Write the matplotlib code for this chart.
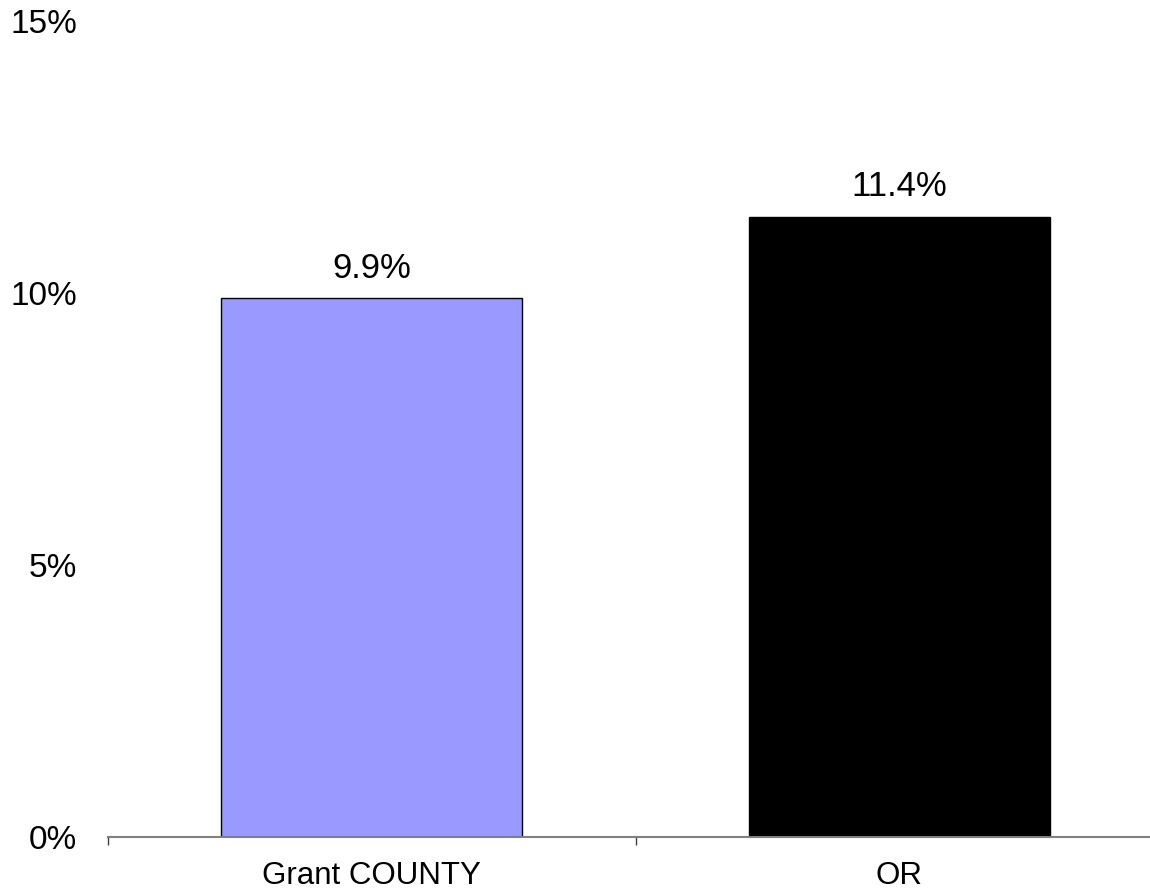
import matplotlib
matplotlib.use("Agg")
import matplotlib.pyplot as plt
from matplotlib.ticker import FixedLocator

categories = ["Grant COUNTY", "OR"]
values = [9.9, 11.4]
colors = ["#9999FF", "#000000"]
yticks = [0, 5, 10, 15]
ytick_labels = ["0%", "5%", "10%", "15%"]

plt.rcParams['font.family'] = ['Liberation Sans', 'DejaVu Sans']

fig = plt.figure(figsize=(11.5, 8.9), dpi=100)
ax = fig.add_axes([108/1150, 53/890, 1055/1150, 816/890])

x = list(range(len(categories)))
bars = ax.bar(x, values, width=0.571, color=colors, edgecolor="black", linewidth=1.0)

for xi, v in zip(x, values):
    ax.annotate(f"{v:.1f}%", (xi, v), xytext=(0, 10), textcoords="offset points",
                ha="center", va="bottom", fontsize=25)

ax.set_xlim(-0.5, len(categories) - 0.5)
ax.set_ylim(0, 15)
ax.set_yticks(yticks)
ax.set_yticklabels(ytick_labels, fontsize=24)
ax.set_xticks(x)
ax.set_xticklabels(categories, fontsize=22.5)
ax.xaxis.set_minor_locator(FixedLocator([i - 0.5 for i in range(len(categories) + 1)]))
ax.tick_params(axis='x', which='major', length=0, pad=17)
ax.tick_params(axis='x', which='minor', length=6, width=1, color="#404040", direction='out')
ax.tick_params(axis='y', length=0, pad=22)

for s in ["top", "right", "left"]:
    ax.spines[s].set_visible(False)
ax.spines["bottom"].set_color("#808080")
ax.spines["bottom"].set_linewidth(1.5)

fig.savefig("out.png", dpi=100)
